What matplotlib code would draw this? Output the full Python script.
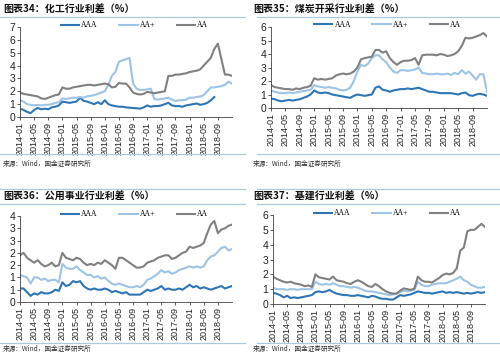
import numpy as np
import matplotlib
matplotlib.use("Agg")
import matplotlib.pyplot as plt
from matplotlib.lines import Line2D

plt.rcParams['font.family'] = ['Liberation Sans', 'Noto Sans CJK SC', 'DejaVu Sans']

nan = np.nan
tick_labels = ["2014-01", "2014-05", "2014-09", "2015-01", "2015-05", "2015-09",
               "2016-01", "2016-05", "2016-09", "2017-01", "2017-05", "2017-09",
               "2018-01", "2018-05", "2018-09"]
series_names = ["AAA", "AA+", "AA"]

# 化工 (monthly readings, 2014-01 .. 2018-12)
chem_aaa = [0.65, 0.55, 0.4, 0.3, 0.55, 0.7, 0.6, 0.65, 0.6, 0.75, 0.8, 0.9,
            1.2, 1.15, 1.1, 1.15, 1.2, 1.5, 1.25, 1.2, 1.1, 1.0, 1.15, 1.0,
            1.3, 1.0, 0.9, 0.85, 0.8, 0.8, 0.75, 0.72, 0.7, 0.68, 0.65, 0.75,
            0.9, 0.8, 0.85, 0.85, 0.9, 1.0, 1.1, 0.9, 0.85, 0.85, 0.8, 0.9,
            0.95, 1.0, 1.05, 0.95, 1.0, 1.1, 1.3, 1.55, nan, nan, nan, nan, nan]
chem_aap = [1.3, 1.2, 1.0, 0.95, 0.9, 0.95, 0.9, 0.95, 0.95, 1.0, 1.1, 1.15,
            1.45, 1.4, 1.45, 1.5, 1.5, 1.55, 1.5, 1.6, 1.65, 1.7, 1.8, 1.9,
            2.0, 2.5, 3.2, 3.5, 4.3, 4.4, 4.5, 4.6, 2.6, 2.2, 2.1, 2.1,
            2.15, 2.2, 1.4, 1.35, 1.4, 1.45, 1.5, 1.35, 1.25, 1.3, 1.3, 1.35,
            1.5, 1.5, 1.55, 1.6, 1.7, 2.0, 2.3, 2.3, 2.35, 2.4, 2.5, 2.75, 2.6]
chem_aa = [1.9, 1.8, 1.75, 1.7, 1.65, 1.6, 1.45, 1.4, 1.5, 1.6, 1.7, 1.75,
           2.3, 2.2, 2.2, 2.3, 2.35, 2.4, 2.45, 2.5, 2.5, 2.45, 2.5, 2.55,
           2.6, 2.55, 2.3, 2.35, 2.65, 2.6, 2.6, 2.3, 1.9, 1.8, 1.75, 1.8,
           1.95, 1.9, 1.85, 1.9, 1.95, 2.0, 3.2, 3.2, 3.3, 3.3, 3.35, 3.4,
           3.5, 3.55, 3.6, 3.7, 4.0, 4.3, 4.6, 5.3, 5.7, 4.5, 3.3, 3.3, 3.2]

# 煤炭开采
coal_aaa = [0.7, 0.65, 0.55, 0.5, 0.55, 0.6, 0.55, 0.6, 0.65, 0.75, 0.85, 1.0,
            1.3, 1.15, 1.1, 1.15, 1.1, 1.0, 0.95, 0.9, 0.85, 0.8, 0.75, 0.9,
            1.0, 0.95, 0.9, 0.95, 1.0, 1.5, 1.6, 1.35, 1.3, 1.2, 1.3, 1.35,
            1.4, 1.4, 1.45, 1.4, 1.45, 1.5, 1.4, 1.3, 1.2, 1.2, 1.15, 1.1,
            1.1, 1.1, 1.1, 1.05, 1.0, 1.1, 1.15, 0.95, 0.9, 1.0, 1.05, 1.0, 0.9]
coal_aap = [1.3, 1.2, 1.15, 1.1, 1.1, 1.15, 1.1, 1.15, 1.2, 1.25, 1.3, 1.35,
            1.7, 1.6, 1.55, 1.5, 1.55, 1.5, 1.45, 1.35, 1.3, 1.35, 1.5, 2.0,
            2.7, 3.2, 3.1, 3.3, 3.7, 3.9, 3.9, 3.6, 3.4, 3.0, 2.7, 2.6,
            2.8, 2.8, 2.75, 2.8, 2.85, 3.0, 2.6, 2.55, 2.5, 2.5, 2.55, 2.5,
            2.5, 2.55, 2.45, 2.6, 2.5, 2.8, 2.55, 2.7, 2.4, 2.1, 2.5, 2.5, 1.2]
coal_aa = [1.7, 1.55, 1.5, 1.45, 1.4, 1.4, 1.35, 1.45, 1.4, 1.5, 1.55, 1.65,
           2.2, 2.1, 2.15, 2.1, 2.15, 2.2, 2.4, 2.5, 2.55, 2.5, 2.55, 2.7,
           3.0, 3.6, 3.7, 3.75, 3.8, 4.3, 4.3, 4.1, 4.2, 3.7, 3.4, 3.2,
           3.4, 3.5, 3.5, 3.55, 3.7, 3.2, 3.9, 3.95, 3.95, 3.95, 3.9, 4.0,
           3.95, 3.85, 3.9, 4.0, 4.2, 4.6, 5.2, 5.15, 5.2, 5.3, 5.4, 5.55, 5.3]

# 公用事业
util_aaa = [0.55, 0.55, 0.4, 0.25, 0.35, 0.3, 0.4, 0.35, 0.35, 0.4, 0.5, 0.45,
            0.8, 0.65, 0.7, 0.85, 0.8, 0.85, 0.65, 0.55, 0.5, 0.55, 0.5, 0.5,
            0.55, 0.5, 0.4, 0.45, 0.4, 0.35, 0.4, 0.3, 0.3, 0.3, 0.3, 0.4,
            0.5, 0.45, 0.5, 0.55, 0.65, 0.5, 0.55, 0.5, 0.5, 0.55, 0.5, 0.6,
            0.7, 0.6, 0.65, 0.55, 0.6, 0.55, 0.5, 0.55, 0.6, 0.65, 0.55, 0.6, 0.65]
util_aap = [1.1, 1.05, 1.0, 0.75, 1.0, 1.0, 0.9, 0.95, 0.85, 0.9, 0.9, 0.8,
            1.55, 1.4, 1.35, 1.35, 1.45, 1.3, 1.2, 1.1, 1.1, 1.0, 1.05, 0.95,
            1.0, 0.85, 0.75, 0.7, 0.75, 0.7, 0.65, 0.6, 0.6, 0.65, 0.6, 0.7,
            0.9, 0.95, 1.05, 1.15, 1.3, 1.2, 1.25, 1.15, 1.2, 1.3, 1.35, 1.4,
            1.45, 1.4, 1.45, 1.4, 1.45, 1.7, 1.85, 1.9, 2.05, 2.2, 2.25, 2.1, 2.15]
util_aa = [1.9, 2.0, 1.8, 1.7, 1.6, 1.7, 1.55, 1.45, 1.5, 1.6, 1.45, 1.5,
           2.0, 1.8, 1.75, 1.7, 1.8, 1.75, 1.6, 1.5, 1.55, 1.5, 1.6, 1.55,
           1.7, 1.6, 1.5, 1.35, 1.8, 1.8, 1.7, 1.6, 1.5, 1.4, 1.4, 1.45,
           1.6, 1.65, 1.7, 1.8, 1.85, 1.9, 1.9, 1.75, 1.8, 1.9, 2.0, 2.05,
           2.25, 2.2, 2.25, 2.3, 2.4, 2.8, 3.15, 3.3, 2.8, 2.95, 3.0, 3.1, 3.15]

# 基建
infra_aaa = [0.75, 0.7, 0.6, 0.45, 0.55, 0.4, 0.45, 0.4, 0.45, 0.5, 0.55, 0.6,
             0.8, 0.85, 0.8, 0.85, 0.95, 0.8, 0.7, 0.65, 0.6, 0.6, 0.55, 0.55,
             0.6, 0.55, 0.5, 0.45, 0.55, 0.5, 0.4, 0.35, 0.35, 0.3, 0.3, 0.45,
             0.6, 0.55, 0.6, 0.65, 0.75, 0.85, 0.8, 0.75, 0.75, 0.7, 0.75, 0.8,
             0.85, 0.75, 0.8, 0.75, 0.8, 0.75, 0.7, 0.75, 0.7, 0.75, 0.8, 0.75, 0.8]
infra_aap = [1.1, 1.0, 1.0, 1.0, 0.95, 1.0, 1.0, 0.95, 1.0, 1.0, 1.0, 1.0,
             1.5, 1.35, 1.3, 1.35, 1.3, 1.4, 1.3, 1.2, 1.2, 1.15, 1.1, 1.15,
             1.1, 1.0, 0.9, 0.85, 0.85, 0.8, 0.75, 0.7, 0.65, 0.6, 0.65, 0.7,
             0.8, 0.9, 0.85, 0.9, 0.95, 1.5, 1.3, 1.2, 1.2, 1.3, 1.35, 1.4,
             1.4, 1.4, 1.5, 1.6, 1.7, 1.85, 1.6, 1.5, 1.3, 1.2, 1.1, 1.1, 1.15]
infra_aa = [1.85, 1.7, 1.6, 1.5, 1.45, 1.5, 1.4, 1.35, 1.3, 1.2, 1.25, 1.15,
            2.0, 1.8, 1.75, 1.7, 1.65, 1.85, 1.6, 1.55, 1.5, 1.4, 1.35, 1.5,
            1.6, 1.5, 1.35, 1.2, 1.15, 1.35, 1.2, 1.0, 0.85, 0.75, 0.7, 0.7,
            0.9, 1.05, 1.0, 0.95, 1.05, 1.85, 1.6, 1.5, 1.5, 1.45, 1.6, 1.75,
            1.95, 2.05, 2.0, 2.1, 2.4, 3.6, 3.8, 4.9, 5.0, 5.0, 5.2, 5.4, 5.2]

colors = ["#2e75b6", "#9dc3e6", "#808080"]
line_col = "#a8cbe0"

fig = plt.figure(figsize=(5, 3.56), dpi=100)
W, H = 500.0, 356.0


def px_axes(l, t, r, b):
    return fig.add_axes([l / W, 1 - b / H, (r - l) / W, (b - t) / H])


def hline(y, x0, x1):
    fig.add_artist(Line2D([x0 / W, x1 / W], [1 - y / H, 1 - y / H],
                          color=line_col, lw=0.9))


def panel(box, data, ymax, yticks, ylabels, title, tx, ty, src_y, lines_y, xr):
    ax = px_axes(*box)
    for vals, c, name in zip(data, colors, series_names):
        ax.plot(np.arange(len(vals)), vals, color=c, lw=1.5, label=name)
    ax.set_xlim(0, 60)
    ax.set_ylim(0, ymax)
    ax.set_xticks(np.arange(0, 57, 4))
    ax.set_xticklabels(tick_labels, rotation=90, fontsize=6.5)
    ax.set_yticks(yticks)
    ax.set_yticklabels(ylabels, fontsize=7.5)
    for s in ["top", "right"]:
        ax.spines[s].set_visible(False)
    for s in ["left", "bottom"]:
        ax.spines[s].set_color("#404040")
        ax.spines[s].set_linewidth(0.6)
    ax.tick_params(length=2, width=0.6, pad=1.5, colors="#404040")
    ax.tick_params(labelcolor="#222222")
    ax.legend(loc="lower center", bbox_to_anchor=(0.54, 0.93), ncol=3,
              frameon=False, handlelength=2.4, columnspacing=2.8,
              handletextpad=0.3, borderpad=0,
              prop={"family": "Liberation Serif", "size": 5.5})
    fig.text(tx / W, 1 - ty / H, title, fontsize=7.2, fontweight="bold",
             family=["Noto Sans CJK SC", "DejaVu Sans"], va="center", ha="left",
             color="#111111")
    fig.text(tx / W, 1 - src_y / H, "来源：Wind，国金证券研究所", fontsize=4.8,
             family=["Noto Sans CJK SC", "DejaVu Sans"], va="center", ha="left",
             color="#333333")
    for y in lines_y:
        hline(y, xr[0], xr[1])
    return ax


panel((20, 27, 232, 117), [chem_aaa, chem_aap, chem_aa], 7,
      range(0, 8), [str(i) for i in range(8)],
      "图表34：化工行业利差（%）", 3, 9, 164, [17, 154], (0, 245))

panel((271, 27, 487, 108), [coal_aaa, coal_aap, coal_aa], 6,
      range(0, 7), [str(i) for i in range(7)],
      "图表35：煤炭开采行业利差（%）", 253, 9, 164, [17, 154], (257, 500))

util_ticks = [0, 0.5, 1, 1.5, 2, 2.5, 3, 3.5]
util_labels = ["0", "1", "1", "2", "2", "3", "3", "4"]
panel((20, 216, 232, 302), [util_aaa, util_aap, util_aa], 3.5,
      util_ticks, util_labels,
      "图表36：公用事业行业利差（%）", 3, 197, 349, [189, 204, 343], (0, 245))

panel((273, 215, 485, 304), [infra_aaa, infra_aap, infra_aa], 6,
      range(0, 7), [str(i) for i in range(7)],
      "图表37：基建行业利差（%）", 253, 197, 349, [189, 204, 343], (257, 500))

fig.savefig("out.png", dpi=100, facecolor="white")
